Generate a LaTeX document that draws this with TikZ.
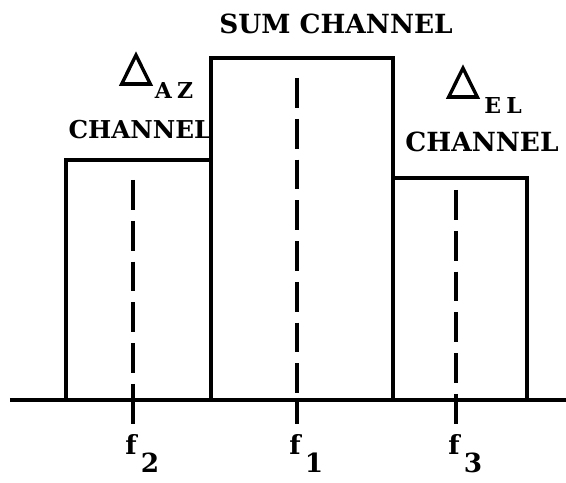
\documentclass[tikz,border=0pt]{standalone}
\usepackage{fontspec}
\setmainfont{DejaVu Serif}
\newfontfamily\symfont[FakeBold=3]{DejaVu Sans}
\usetikzlibrary{positioning}

\tikzset{
  band/.style={line width=1.8pt},
  centre/.style={line width=2.2pt, dash pattern=on 17pt off 6.2pt},
  lbl/.style={font=\fontsize{15}{17}\selectfont\bfseries, inner sep=0pt},
  sub/.style={font=\fontsize{12.5}{14}\selectfont\bfseries, inner sep=0pt},
  freq/.style={font=\fontsize{15}{17}\selectfont\bfseries, inner sep=0pt},
  delta/.style={font=\fontsize{24}{26}\selectfont\symfont, inner sep=0pt}
}

\begin{document}
\begin{tikzpicture}[x=0.02cm,y=-0.02cm]
        \useasboundingbox (0,0) rectangle (566,483);
        % frequency axis
        \draw[band] (10,400) -- (566,400);
        % the three channel bands
        \draw[band] (66,400) -- (66,160) -- (211,160);
        \draw[band] (211,400) -- (211,58) -- (393,58) -- (393,400);
        \draw[band] (393,178) -- (527,178) -- (527,400);
        % centre frequencies
        \draw[centre] (133,180) -- (133,400);
        \draw[centre] (297,78) -- (297,400);
        \draw[centre] (456,190) -- (456,400);
        \draw[band] (133,398) -- (133,424);
        \draw[band] (297,398) -- (297,424);
        \draw[band] (456,398) -- (456,424);
        \node[freq] (ftwo) at (131,444) {f};
        \node[freq] (ftwosub) at (150,463) {2};
        \node[freq] (fone) at (295,444) {f};
        \node[freq] (fonesub) at (314,463) {1};
        \node[freq] (fthree) at (454,444) {f};
        \node[freq] (fthreesub) at (473,463) {3};
        % channel names
        \node[lbl] (sum) at (336,24) {SUM CHANNEL};
        \node[delta] (daz) at (136,69) {△};
        \node[sub] (dazsub) at (174,90) {A\kern3pt Z};
        \node[lbl, font=\fontsize{14}{16}\selectfont\bfseries] (azname) at (140,130) {CHANNEL};
        \node[delta] (del) at (463,82) {△};
        \node[sub] (delsub) at (503,105) {E\kern3pt L};
        \node[lbl] (elname) at (482,142) {CHANNEL};
\end{tikzpicture}
\end{document}
